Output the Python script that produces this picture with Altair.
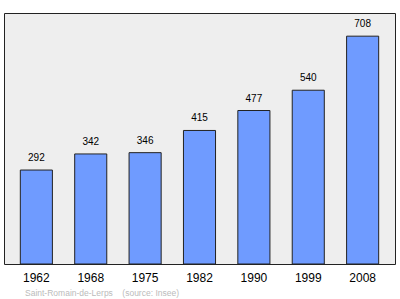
import altair as alt
import pandas as pd

years = ["1962", "1968", "1975", "1982", "1990", "1999", "2008"]
population = [292, 342, 346, 415, 477, 540, 708]

df = pd.DataFrame({"year": years, "pop": population})

FONT = "Liberation Sans"

x = alt.X("year:N", sort=years, title=None,
          scale=alt.Scale(paddingInner=0.41, paddingOuter=0.3),
          axis=alt.Axis(labelAngle=0, labelFontSize=12, labelColor="#000",
                        labelFont=FONT, ticks=False, domain=False,
                        labelPadding=8))
y = alt.Y("pop:Q", scale=alt.Scale(domain=[0, 780], nice=False), axis=None)

bars = alt.Chart(df).mark_bar(color="#6f9bff", stroke="#222", strokeWidth=1).encode(x=x, y=y)
labels = alt.Chart(df).mark_text(dy=-12, fontSize=10, font=FONT, color="#000").encode(
    x=x, y=y, text="pop:Q")

footer = "Saint-Romain-de-Lerps\u00a0\u00a0\u00a0\u00a0(source: Insee)"

chart = (bars + labels).properties(
    width=391, height=251,
    padding={"left": 4, "top": 13, "right": 5, "bottom": 35},
    autosize=alt.AutoSizeParams(type="none"),
    title=alt.TitleParams(footer, orient="bottom",
                          anchor="start", fontSize=8.5, font=FONT,
                          fontWeight="normal", color="#bbbbbb", offset=6, dx=21),
).configure_view(fill="#eeeeee", stroke="#222", strokeWidth=1)

chart.save("out.html", embed_options={"renderer": "svg", "actions": False})
